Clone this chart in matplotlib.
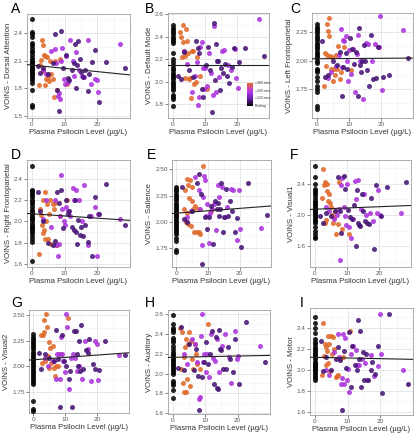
import numpy as np
import matplotlib
matplotlib.use("Agg")
import matplotlib.pyplot as plt
from matplotlib.colors import LinearSegmentedColormap

plt.rcParams['font.family'] = ['Liberation Sans', 'DejaVu Sans']

W, H = 419, 440

# ---- shared x values (plasma psilocin, µg/L) per timepoint group ----
x_or = [2.3, 2.6, 3.0, 3.2, 3.4, 3.6, 3.8, 4.0, 4.2, 4.5, 4.8, 5.0, 5.3, 5.6, 6.0, 6.4, 6.8, 7.2, 7.6, 8.5, 10.8]
x_dp = [1.8, 2.5, 3.5, 5.0, 6.5, 7.2, 7.8, 8.2, 9.0, 9.6, 10.3, 11.0, 11.5, 12.2, 12.8, 13.2, 13.5, 13.8, 14.2, 14.6,
        15.0, 15.6, 16.3, 17.0, 17.5, 18.5, 19.2, 20.5, 22.5, 28.5]
x_br = [3.5, 4.5, 6.0, 7.0, 7.5, 8.0, 8.3, 8.6, 9.0, 9.3, 9.8, 10.2, 10.6, 11.2, 11.8, 12.5, 13.0, 13.6, 14.3, 15.2,
        16.0, 17.2, 18.0, 19.3, 19.8, 20.2, 26.8]
# minutes after dose for each group (predrug = 0)
t_pre, t_or, t_dp, t_br = 0, 360, 75, 210

# ---- panel A ----
A_pre = [2.55,2.41,2.39,2.36,2.29,2.27,2.24,2.21,2.19,2.16,2.13,2.11,2.09,2.07,2.05,2.03,2.01,1.99,1.97,1.95,1.93,1.91,1.89,1.86,1.78,1.62,1.60,2.00]
A_or = [1.83,2.05,2.11,2.33,1.99,2.27,2.16,1.84,2.15,1.90,2.14,1.92,1.88,2.10,1.95,1.90,1.70,2.10,1.78,2.12,1.85]
A_dp = [2.04,1.97,2.02,1.96,2.07,2.39,1.78,1.55,2.42,2.02,2.16,1.91,1.89,2.00,2.07,2.28,1.80,2.05,2.31,2.12,1.98,1.92,2.00,1.77,1.95,2.09,2.22,1.65,2.09,2.02]
A_br = [2.00,1.95,2.21,2.23,2.07,1.72,1.75,1.68,2.10,2.24,1.90,1.85,2.15,1.87,2.33,2.10,1.93,2.20,2.00,1.93,1.92,2.33,1.85,1.90,1.89,1.76,2.28]
# ---- panel B ----
B_pre = [2.50,2.48,2.46,2.44,2.42,2.40,2.38,2.36,2.34,2.25,2.20,2.17,2.15,2.12,2.10,2.08,2.06,2.04,2.02,2.00,1.98,1.96,1.94,1.92,1.88,1.86,1.84,1.78]
B_or = [2.44,2.40,2.22,2.35,2.50,2.27,2.23,2.03,2.47,2.36,2.25,2.02,2.03,1.85,2.27,2.27,1.98,2.00,2.22,2.05,1.93]
B_dp = [2.05,2.02,2.26,2.10,2.04,2.36,2.30,2.25,1.93,1.86,2.15,2.31,2.10,1.73,2.52,2.01,2.33,2.18,2.18,1.92,2.12,2.08,2.16,2.05,1.99,2.13,2.30,2.17,2.30,2.23]
B_br = [2.27,2.16,1.91,2.05,2.17,1.79,1.86,2.31,2.35,2.12,1.93,2.12,1.96,2.25,2.08,1.88,2.49,1.91,2.04,2.27,2.28,2.15,2.10,2.29,2.03,1.94,2.56]
# ---- panel C ----
C_pre = [2.32,2.30,2.28,2.26,2.24,2.22,2.20,2.18,2.16,2.14,2.12,2.10,2.08,2.06,2.04,2.02,2.00,1.98,1.93,1.92,1.90,1.86,1.82,1.78,1.75,1.72,1.60,1.57]
C_or = [1.78,2.07,1.95,2.05,2.32,2.26,2.22,2.38,2.04,1.93,2.03,1.82,1.93,1.87,2.05,1.93,2.13,1.84,1.90,2.12,1.92]
C_dp = [2.17,1.86,1.87,2.00,1.96,2.08,1.69,1.94,2.07,1.93,2.20,2.10,1.97,2.08,1.69,2.29,1.96,1.90,2.00,2.14,2.00,1.92,1.78,2.23,1.84,1.85,2.12,1.86,1.87,2.02]
C_br = [1.85,1.90,1.95,2.05,2.28,1.94,2.18,2.17,2.22,2.00,1.82,2.09,1.88,2.10,1.72,2.06,2.23,2.00,1.66,2.16,2.15,2.00,2.15,2.12,2.39,1.74,2.27]
# ---- panel D ----
D_pre = [2.52,2.30,2.29,2.27,2.25,2.23,2.20,2.16,2.14,2.11,2.09,2.07,2.05,2.03,2.01,1.99,1.97,1.95,1.93,1.91,1.89,1.86,1.83,1.81,1.63,2.18,1.94,2.02]
D_or = [1.69,2.12,2.06,1.97,2.20,1.89,1.92,2.28,1.83,2.00,2.16,1.83,2.07,2.20,1.79,2.16,2.12,2.17,1.78,2.05,2.20]
D_dp = [2.28,2.10,2.00,1.80,1.78,1.82,2.28,2.17,2.30,1.94,2.20,2.07,2.10,1.95,1.92,2.20,1.90,1.79,2.01,1.87,1.95,1.86,1.97,1.81,2.05,1.67,2.23,2.07,2.35,1.97]
D_br = [2.02,2.20,1.95,2.20,1.78,1.67,1.79,2.05,2.44,2.12,2.00,1.97,2.14,2.10,2.05,2.32,2.20,2.30,2.20,2.00,2.34,1.78,2.05,2.14,1.67,2.07,2.02]
# ---- panel E ----
E_pre = [2.33,2.31,2.29,2.27,2.25,2.23,2.21,2.18,2.16,2.14,2.12,2.10,2.08,2.06,2.04,2.02,2.00,1.98,1.96,1.94,1.92,1.90,1.88,1.85,1.82,1.73,1.71,2.07]
E_or = [2.12,2.30,2.00,2.41,2.08,2.35,1.98,2.23,2.40,1.96,2.33,2.20,2.12,1.90,2.15,1.90,2.12,1.90,1.88,2.53,2.10]
E_dp = [2.33,2.03,2.00,2.10,2.37,2.46,2.27,1.60,2.05,1.93,2.05,2.15,1.79,2.20,2.12,2.18,2.06,2.12,2.37,1.90,2.05,2.31,2.06,2.20,2.10,1.90,2.04,1.76,2.37,2.07]
E_br = [2.05,2.10,2.43,2.30,2.12,1.78,2.24,2.44,2.40,2.06,2.17,1.80,2.08,2.12,2.17,1.92,2.35,2.24,2.33,2.05,2.14,2.31,2.30,1.83,2.30,1.93,1.94]
# ---- panel F ----
F_pre = [2.62,2.48,2.40,2.33,2.31,2.28,2.25,2.22,2.18,2.16,2.14,2.12,2.10,2.08,2.06,2.04,2.02,2.00,1.98,1.96,1.94,1.92,1.90,1.84,1.80,1.76,1.72,1.70]
F_or = [2.22,2.58,2.38,1.90,2.42,1.93,2.30,2.40,2.18,2.26,2.15,2.10,2.00,1.90,1.97,2.05,1.76,1.88,2.42,1.82,1.75]
F_dp = [1.99,1.90,2.02,1.98,2.05,2.48,2.05,1.77,2.50,2.33,2.06,1.97,1.95,2.12,1.60,2.32,1.90,1.87,1.86,2.27,2.05,1.92,1.90,1.88,2.22,1.57,2.38,1.98,2.35,2.42]
F_br = [2.10,2.05,1.95,2.00,2.08,1.42,2.38,2.47,2.10,1.98,1.87,2.40,1.85,1.70,1.95,2.43,2.20,2.45,2.08,2.27,2.00,2.02,1.92,2.03,2.32,2.00,2.02]
# ---- panel G ----
G_pre = [2.31,2.29,2.27,2.25,2.23,2.21,2.19,2.17,2.14,2.12,2.10,2.08,2.06,2.04,2.02,2.00,1.98,1.96,1.94,1.92,1.90,1.88,1.86,1.84,1.82,1.66,1.58,1.56]
G_or = [2.30,2.03,2.30,2.33,2.45,2.05,2.51,2.08,2.38,2.10,2.24,1.98,2.18,2.03,2.20,1.98,1.90,2.00,2.00,2.12,2.47]
G_dp = [2.13,1.97,2.12,2.08,2.05,2.35,2.07,1.60,2.30,2.05,2.00,1.87,1.95,1.60,2.34,2.34,2.12,2.00,2.25,1.95,2.40,1.97,2.16,2.13,2.27,2.02,1.97,1.96,2.25,2.11]
G_br = [2.08,2.00,2.05,1.87,2.12,2.12,1.87,2.29,2.12,2.05,1.94,2.51,2.38,1.78,2.08,2.12,2.08,1.95,2.00,1.87,2.25,2.17,1.85,2.25,2.22,1.86,2.11]
# ---- panel H ----
H_pre = [2.59,2.50,2.46,2.44,2.36,2.34,2.32,2.28,2.25,2.22,2.20,2.18,2.15,2.12,2.10,2.08,2.06,2.04,2.02,2.00,1.92,1.90,1.88,1.83,1.75,2.17,2.14,2.42]
H_or = [2.46,2.05,2.42,1.90,2.17,1.81,2.27,1.81,2.35,1.94,2.30,2.42,1.87,2.33,2.15,2.05,2.30,2.20,2.10,2.05,2.50]
H_dp = [2.06,2.47,2.04,2.30,2.04,2.25,1.98,1.63,1.97,2.12,2.32,2.10,2.20,2.43,1.89,2.37,1.85,1.84,2.44,2.25,2.24,2.05,2.05,2.27,2.15,2.02,2.35,1.89,2.52,2.12]
H_br = [2.20,2.10,2.35,2.30,2.12,1.74,1.76,2.38,2.60,2.12,2.20,2.02,2.20,1.97,2.40,2.16,2.13,2.35,2.02,2.28,2.40,2.17,1.90,2.43,2.15,2.18,2.28]
# ---- panel I ----
I_pre = [2.50,2.45,2.40,2.35,2.29,2.27,2.25,2.22,2.20,2.18,2.16,2.14,2.12,2.10,2.08,2.06,2.04,2.02,2.00,1.98,1.96,1.94,1.92,1.90,2.01,2.03,2.05,2.07]
I_or = [1.95,2.45,2.13,2.25,2.05,2.22,2.18,2.32,2.07,2.25,1.99,2.32,2.15,2.31,2.20,1.93,1.94,1.95,2.10,2.12,2.37]
I_dp = [2.28,1.99,2.12,2.00,2.10,2.22,2.09,1.62,2.18,2.02,2.36,1.84,2.23,2.05,2.00,2.48,2.10,2.37,1.84,2.17,1.90,2.15,1.90,2.00,2.08,1.96,2.23,1.78,2.53,1.87]
I_br = [2.00,1.95,2.17,2.34,2.12,1.87,1.92,2.34,1.87,2.30,1.90,2.01,1.79,2.15,2.23,2.19,2.05,2.05,2.10,2.07,1.90,2.14,1.94,2.04,2.53,2.15,2.00]

panel_letters = ["A", "B", "C", "D", "E", "F", "G", "H", "I"]
y_labels = ["VOINS - Dorsal Attention", "VOINS - Default Mode", "VOINS - Left Frontoparietal",
            "VOINS - Right Frontoparietal", "VOINS - Salience", "VOINS - Visual1",
            "VOINS - Visual2", "VOINS - Auditory", "VOINS - Motor"]
x_label = "Plasma Psilocin Level (µg/L)"
fit_intercepts = [2.053, 2.150, 2.017, 2.073, 2.083, 2.072, 2.062, 2.165, 2.120]
fit_slopes = [-0.0036, 0.0, 0.0002, -0.0021, 0.0023, 0.0016, 0.0023, 0.00065, -0.00065]
y_ticks = [[1.5, 1.8, 2.1, 2.4], [1.8, 2.0, 2.2, 2.4, 2.6], [1.75, 2.00, 2.25],
           [1.6, 1.8, 2.0, 2.2, 2.4], [1.75, 2.00, 2.25, 2.50], [1.6, 2.0, 2.4],
           [1.75, 2.00, 2.25, 2.50], [1.6, 1.8, 2.0, 2.2, 2.4, 2.6], [1.6, 1.8, 2.0, 2.2, 2.4]]
y_fmt = ["%.1f", "%.1f", "%.2f", "%.1f", "%.2f", "%.1f", "%.2f", "%.1f", "%.1f"]
x_ticks = [0, 10, 20]
legend_ticks = [0, 120, 240, 360]
legend_labels = ["Predrug", "+120 mins", "+240 mins", "+360 mins"]

panels = [(A_pre, A_or, A_dp, A_br), (B_pre, B_or, B_dp, B_br), (C_pre, C_or, C_dp, C_br),
          (D_pre, D_or, D_dp, D_br), (E_pre, E_or, E_dp, E_br), (F_pre, F_or, F_dp, F_br),
          (G_pre, G_or, G_dp, G_br), (H_pre, H_or, H_dp, H_br), (I_pre, I_or, I_dp, I_br)]

# layout (pixel boxes: left, right, top, bottom) and y limits
boxes = [(27, 130, 14, 118), (168, 269, 13, 118), (312, 413, 13, 118),
         (27, 130, 160, 267), (172, 271, 160, 267), (310, 411, 160, 267),
         (29, 129, 310, 413), (168, 270, 310, 414), (310, 413, 308, 415)]
ylims = [(1.475, 2.61), (1.675, 2.61), (1.495, 2.42), (1.57, 2.58), (1.57, 2.59),
         (1.335, 2.70), (1.54, 2.55), (1.59, 2.645), (1.57, 2.59)]
letter_pos = [(11, 2), (145, 2), (290, 2), (11, 148), (147, 148), (290, 148), (11, 296), (145, 296), (300, 296)]
xlim = (-1.4, 29.9)

cmap = LinearSegmentedColormap.from_list(
    "time", [(0.0, "#050505"), (1/3, "#6e1fb8"), (2/3, "#bf3ae8"), (0.83, "#d9507e"), (1.0, "#e06a2a")])

fig = plt.figure(figsize=(W / 100, H / 100), dpi=100)
fig.patch.set_facecolor("white")

for i, (pre, yo, yd, yb) in enumerate(panels):
    l, r, t, b = boxes[i]
    ax = fig.add_axes([l / W, 1 - b / H, (r - l) / W, (b - t) / H])
    ax.set_facecolor("white")
    ax.set_xlim(*xlim)
    ax.set_ylim(*ylims[i])
    ax.set_xticks(x_ticks)
    ax.set_xticks([5, 15, 25], minor=True)
    yt = y_ticks[i]
    ax.set_yticks(yt)
    step = yt[1] - yt[0]
    minors = [v + step / 2 for v in yt] + [yt[0] - step / 2]
    ax.set_yticks([m for m in minors if ylims[i][0] < m < ylims[i][1]], minor=True)
    ax.set_yticklabels([y_fmt[i] % v for v in yt])
    ax.grid(which="major", color="#e3e3e3", linewidth=0.6)
    ax.grid(which="minor", color="#f0f0f0", linewidth=0.4)
    ax.set_axisbelow(True)
    for s in ax.spines.values():
        s.set_color("#a0a0a0")
        s.set_linewidth(0.6)
    ax.tick_params(which="major", length=2, width=0.5, color="#555555", labelsize=4.6,
                   labelcolor="#5a5a5a", pad=1)
    ax.tick_params(which="minor", length=0)

    groups = [(np.zeros(len(pre)), pre, t_pre), (x_or, yo, t_or), (x_br, yb, t_br), (x_dp, yd, t_dp)]
    for gx, gy, tt in groups:
        ax.scatter(gx, gy, s=13, c=[cmap(tt / 360)], alpha=0.88, linewidths=0, zorder=3)

    xs = np.array(xlim)
    ax.plot(xs, fit_intercepts[i] + fit_slopes[i] * xs, color="#222222", linewidth=0.8, zorder=4)

    ax.set_xlabel(x_label, fontsize=5.6, color="#333333", labelpad=1.5)
    ax.set_ylabel(y_labels[i], fontsize=5.6, color="#333333", labelpad=1.5)

    lx, ly = letter_pos[i]
    fig.text(lx / W, 1 - ly / H, panel_letters[i], fontsize=10, va="top", ha="left", color="black")

# colour legend inside panel B
cax = fig.add_axes([247 / W, 1 - 106 / H, 6 / W, 23 / H])
grad = np.linspace(0, 360, 100).reshape(-1, 1)
cax.imshow(grad, aspect="auto", cmap=cmap, origin="lower", extent=(0, 1, 0, 360), vmin=0, vmax=360)
cax.set_xticks([])
cax.set_yticks([])
for s in cax.spines.values():
    s.set_visible(False)
for tv, tl in zip(legend_ticks, legend_labels):
    yy = 106 - (tv / 360) * 23
    fig.text(255 / W, 1 - yy / H, tl, fontsize=2.4, color="#333333", va="center", ha="left")

fig.savefig("out.png", dpi=100, facecolor="white")
